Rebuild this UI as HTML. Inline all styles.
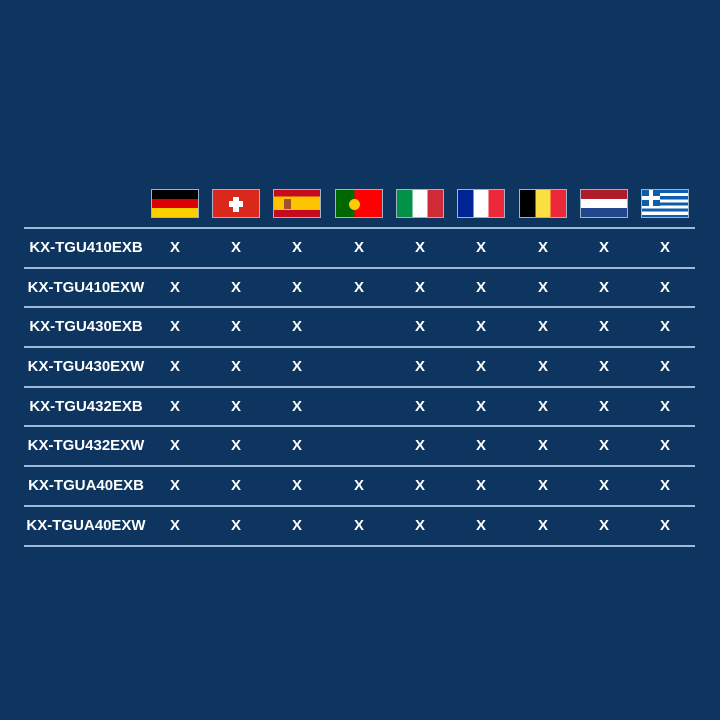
<!DOCTYPE html>
<html><head><style>
body{margin:0;width:720px;height:720px;background:#0d3560;overflow:hidden;position:relative;font-family:"Liberation Sans",sans-serif;color:#fff}
.f{position:absolute;top:189px;width:48px;height:29px;box-sizing:border-box;border:1px solid #9fb3c8;overflow:hidden}
.l{position:absolute;left:24px;width:671px;height:1.5px;background:#9cbad3}
.t{position:absolute;font-weight:bold;font-size:15px;line-height:20px;transform:translate(-50%,-50%);white-space:nowrap}
</style></head><body>
<div class="f" style="left:151px;background:linear-gradient(#000 33.3%,#dd0000 33.3% 66.6%,#ffce00 66.6%)"></div>
<div class="f" style="left:212px;background:#da291c"><div style="position:absolute;left:20px;top:7px;width:6px;height:15px;background:#fff"></div><div style="position:absolute;left:16px;top:11px;width:14px;height:6px;background:#fff"></div></div>
<div class="f" style="left:273px;background:linear-gradient(#c60b1e 25%,#ffc400 25% 75%,#c60b1e 75%)"><div style="position:absolute;left:10px;top:9px;width:7px;height:10px;background:#a0522d"></div></div>
<div class="f" style="left:335px;background:linear-gradient(90deg,#006600 40%,#ff0000 40%)"><div style="position:absolute;left:13px;top:9px;width:11px;height:11px;border-radius:50%;background:#ffcc00"></div></div>
<div class="f" style="left:396px;background:linear-gradient(90deg,#009246 33.3%,#fff 33.3% 66.6%,#ce2b37 66.6%)"></div>
<div class="f" style="left:457px;background:linear-gradient(90deg,#002395 33.3%,#fff 33.3% 66.6%,#ed2939 66.6%)"></div>
<div class="f" style="left:519px;background:linear-gradient(90deg,#000 33.3%,#fae042 33.3% 66.6%,#ed2939 66.6%)"></div>
<div class="f" style="left:580px;background:linear-gradient(#ae1c28 33.3%,#fff 33.3% 66.6%,#21468b 66.6%)"></div>
<div class="f" style="left:641px;background:repeating-linear-gradient(#0d5eaf 0 3.1px,#fff 3.1px 6.2px)"><div style="position:absolute;left:0;top:0;width:18px;height:16px;background:#0d5eaf"></div><div style="position:absolute;left:7px;top:0;width:4px;height:16px;background:#fff"></div><div style="position:absolute;left:0;top:6px;width:18px;height:4px;background:#fff"></div></div>
<div id="g"></div>
<script>
var g=document.getElementById('g'),h='';
var ys=[227,267,306,346,386,425,465,505,545];
ys.forEach(function(y){h+='<div class="l" style="top:'+y+'px"></div>'});
var names=['KX-TGU410EXB','KX-TGU410EXW','KX-TGU430EXB','KX-TGU430EXW','KX-TGU432EXB','KX-TGU432EXW','KX-TGUA40EXB','KX-TGUA40EXW'];
var pt=[1,1,0,0,0,0,1,1];
var xs=[175,236,297,359,420,481,543,604,665];
names.forEach(function(n,i){var cy=(ys[i]+ys[i+1])/2+1;
h+='<div class="t" style="left:86px;top:'+cy+'px">'+n+'</div>';
xs.forEach(function(x,j){if(j==3&&!pt[i])return;h+='<div class="t" style="left:'+x+'px;top:'+cy+'px">X</div>';});});
g.innerHTML=h;
</script>
</body></html>
